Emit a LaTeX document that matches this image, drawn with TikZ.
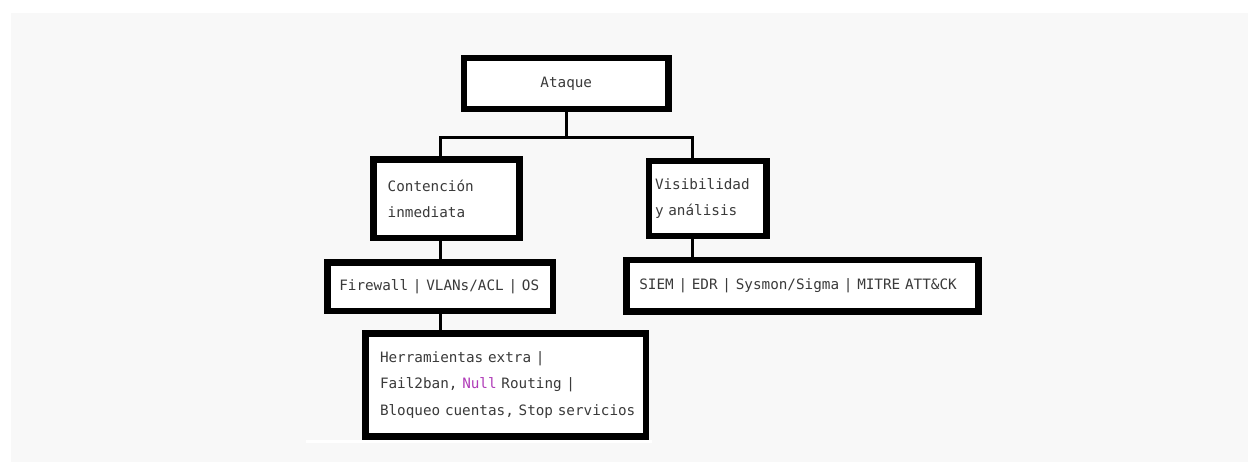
\documentclass[tikz,border=0pt]{standalone}
\usepackage{fontspec}
\newfontfamily\boxfont{DejaVu Sans Mono}
\definecolor{panel}{HTML}{F8F8F8}
\definecolor{ink}{HTML}{3A3A3A}
\definecolor{nullc}{HTML}{B03CB8}
\begin{document}
\begin{tikzpicture}[x=1pt,y=-1pt,
  blk/.style={draw=black, fill=white, line width=6.5pt, text=ink,
    font=\boxfont\fontsize{14.3}{26.5}\selectfont, inner ysep=0pt},
  link/.style={draw=black, line width=3pt}]
\useasboundingbox (0,0) rectangle (1248,462);
% page and panel
\fill[white] (0,0) rectangle (1248,462);
\fill[panel] (11,13) rectangle (1248,462);
\fill[white] (306,440) rectangle (652,443);

% boxes
\node[blk, minimum width=204.5pt, minimum height=51pt] (ataque) at (566.25,83.5) {Ataque};
\node[blk, align=left, text width=117.8pt, inner xsep=14.2pt, minimum height=78.3pt] (cont) at (446.6,198.85) {Contención\\inmediata};
\node[blk, align=left, text width=105.3pt, inner xsep=6pt, minimum height=75pt] (vis) at (707.65,198.5) {\mbox{Visibilidad}\\y análisis};
\node[blk, align=left, text width=201.7pt, inner xsep=12pt, minimum height=48.3pt] (fw) at (440.15,286.85) {\mbox{Firewall | VLANs/ACL | OS}};
\node[blk, align=left, text width=326.8pt, inner xsep=12.6pt, minimum height=51.3pt] (siem) at (802.7,285.65) {\mbox{SIEM | EDR | Sysmon/Sigma | MITRE ATT\&CK}};
\node[blk, align=left, text width=251.9pt, inner xsep=14.3pt, minimum height=102.6pt] (herr) at (505.95,385) {\mbox{Herramientas extra |}\\\mbox{Fail2ban, {\color{nullc}Null} Routing |}\\\mbox{Bloqueo cuentas, Stop servicios}};

% connectors
\coordinate (j) at (564,138);
\draw[link] (ataque.south) -- (ataque.south |- j);
\draw[link] ([xshift=-6.6pt]cont.north) |- (j) -| ([xshift=-15pt]vis.north);
\draw[link] (fw.north) -- (fw.north |- cont.south);
\draw[link] (fw.south) -- (fw.south |- herr.north);
\draw[link] ([xshift=-15pt]vis.south) -- ([xshift=-15pt]vis.south |- siem.north);
\end{tikzpicture}
\end{document}
